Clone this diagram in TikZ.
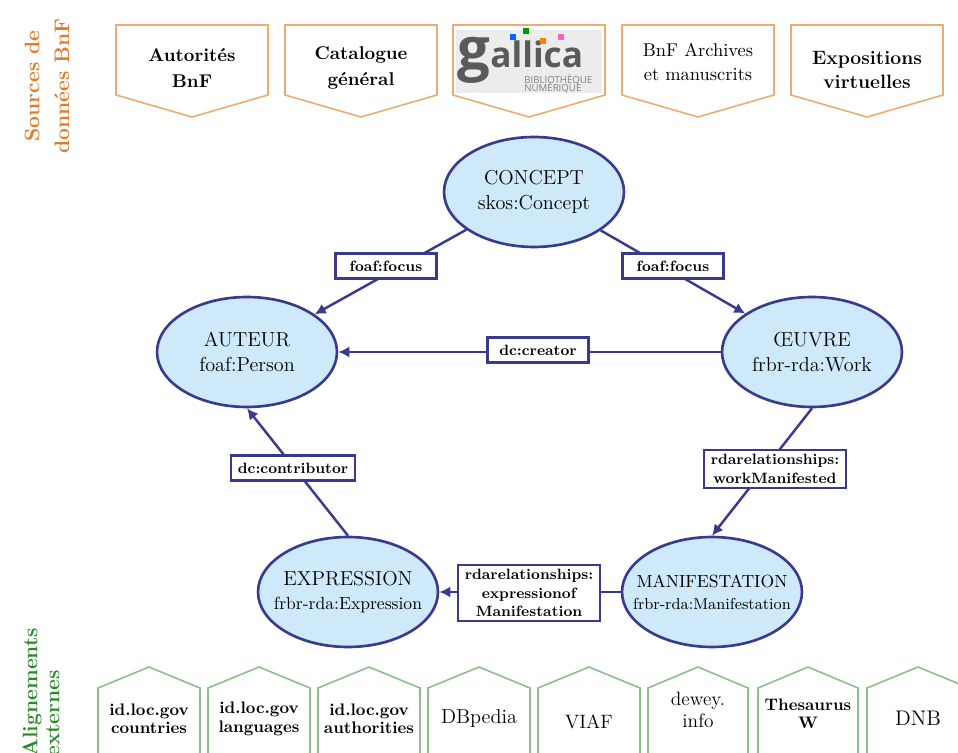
\documentclass[tikz,border=0pt]{standalone}
\usepackage{fontspec}
\newfontfamily\logofont{Open Sans}
\usetikzlibrary{shapes.geometric,arrows.meta}

\definecolor{navy}{RGB}{58,58,140}
\definecolor{entfill}{RGB}{205,233,250}
\definecolor{srcorange}{RGB}{224,122,40}
\definecolor{srcline}{RGB}{234,172,112}
\definecolor{alggreen}{RGB}{42,138,42}
\definecolor{algline}{RGB}{140,190,140}
\definecolor{logogray}{RGB}{90,90,90}

\begin{document}
\begin{tikzpicture}[x=0.02cm,y=-0.02cm,
    ent/.style={ellipse, draw=navy, line width=1.5pt, fill=entfill, minimum width=3.6cm, minimum height=2.2cm, inner sep=0pt},
    enttxt/.style={align=center, font=\fontsize{11.5}{14}\selectfont},
    link/.style={draw=navy, line width=1.4pt, -{Latex[length=2.2mm,width=2.2mm]}},
    lab/.style={draw=navy, line width=1.3pt, fill=white, align=center, font=\bfseries\fontsize{8.5}{10.5}\selectfont, inner xsep=4pt, inner ysep=2.5pt, minimum width=2.02cm, minimum height=0.5cm},
    srcbox/.style={draw=srcline, line width=0.9pt, fill=white},
    algbox/.style={draw=algline, line width=0.9pt, fill=white},
    srctxt/.style={align=center, font=\bfseries\fontsize{10.5}{14.5}\selectfont},
    algtxt/.style={align=center, font=\bfseries\fontsize{9.5}{10.5}\selectfont},
    algbig/.style={align=center, font=\fontsize{11}{12.5}\selectfont}]
    \useasboundingbox (0,0) rectangle (958,753);
    \clip (0,0) rectangle (958,753);

    % side titles
    \node[rotate=90, align=center, text=srcorange, font=\bfseries\fontsize{12}{17}\selectfont] (srcs) at (47,86) {Sources de\\données BnF};
    \node[rotate=90, anchor=west, align=left, inner sep=0pt, text=alggreen, font=\bfseries\fontsize{12}{12.5}\selectfont] (algs) at (41,757) {Alignements\\externes};

    % sources (top)
    \filldraw[srcbox] (116,25) -- (268,25) -- (268,95) -- (192,117) -- (116,95) -- cycle;
    \filldraw[srcbox] (285,25) -- (437,25) -- (437,95) -- (361,117) -- (285,95) -- cycle;
    \filldraw[srcbox] (453,25) -- (605,25) -- (605,95) -- (529,117) -- (453,95) -- cycle;
    \filldraw[srcbox] (622,25) -- (774,25) -- (774,95) -- (698,117) -- (622,95) -- cycle;
    \filldraw[srcbox] (791,25) -- (943,25) -- (943,95) -- (867,117) -- (791,95) -- cycle;
    \node[srctxt] (autorites) at (192,68) {Autorités\\BnF};
    \node[srctxt] (catalogue) at (361,68) {Catalogue\\général};
    \node[align=center, font=\fontsize{10.5}{14}\selectfont] (archives) at (698,62) {BnF Archives\\et manuscrits};
    \node[srctxt, font=\bfseries\fontsize{11}{14}\selectfont] (expos) at (867,70) {Expositions\\virtuelles};
    % gallica logo
    \fill[gray!15] (456,30) rectangle (602,93);
    \node[anchor=base west, inner sep=0pt, text=logogray, font=\logofont\bfseries\fontsize{33}{33}\selectfont] (galg) at (457,70) {g};
    \node[anchor=base west, inner sep=0pt, text=logogray, font=\logofont\bfseries\fontsize{20}{20}\selectfont] (galw) at (490,68) {allica};
    \fill[blue!60!cyan] (510,34) rectangle (516,40);
    \fill[green!60!black] (523,28) rectangle (529,34);
    \fill[orange] (540,38) rectangle (546,44);
    \fill[magenta!60] (558,34) rectangle (564,40);
    \node[anchor=west, inner sep=0pt, text=gray, font=\logofont\fontsize{5.5}{5.5}\selectfont] (galb) at (524,80) {BIBLIOTHÈQUE};
    \node[anchor=west, inner sep=0pt, text=gray, font=\logofont\fontsize{5.5}{5.5}\selectfont] (galn) at (524,88) {NUMÉRIQUE};

    % entities
    \node[ent] (concept) at (534,192) {};
    \node[ent] (auteur) at (247,352) {};
    \node[ent] (oeuvre) at (812,352) {};
    \node[ent] (expr) at (348,592) {};
    \node[ent] (manif) at (712,592) {};
    \node[enttxt] (concept-t) at (concept) {CONCEPT\\skos:Concept};
    \node[enttxt] (auteur-t) at (auteur) {AUTEUR\\foaf:Person};
    \node[enttxt] (oeuvre-t) at (oeuvre) {ŒUVRE\\frbr-rda:Work};
    \node[enttxt] (expr-t) at (expr) {EXPRESSION\\{\fontsize{10}{12}\selectfont frbr-rda:Expression}};
    \node[enttxt, font=\fontsize{10}{12.5}\selectfont] (manif-t) at (manif) {MANIFESTATION\\{\fontsize{9}{11}\selectfont frbr-rda:Manifestation}};

    % relations
    \draw[link] (concept) -- (auteur);
    \draw[link] (concept) -- (oeuvre);
    \draw[link] (oeuvre) -- (auteur);
    \draw[link] (expr.north) -- (auteur.south);
    \draw[link] (oeuvre.south) -- (manif.north);
    \draw[link] (manif) -- (expr);
    \node[lab] (lfocA) at (386,266) {foaf:focus};
    \node[lab] (lfocO) at (673,266) {foaf:focus};
    \node[lab] (lcreat) at (538,350) {dc:creator};
    \node[lab] (lcontr) at (293,468) {dc:contributor};
    \node[lab] (lwork) at (775,469) {rdarelationships:\\workManifested};
    \node[lab] (lexpr) at (529,593) {rdarelationships:\\expressionof\\Manifestation};

    % alignments (bottom)
    \filldraw[algbox] (98,770) -- (98,688) -- (149,667) -- (200,688) -- (200,770) -- cycle;
    \filldraw[algbox] (208,770) -- (208,688) -- (259,667) -- (310,688) -- (310,770) -- cycle;
    \filldraw[algbox] (318,770) -- (318,688) -- (369,667) -- (420,688) -- (420,770) -- cycle;
    \filldraw[algbox] (428,770) -- (428,688) -- (479,667) -- (530,688) -- (530,770) -- cycle;
    \filldraw[algbox] (538,770) -- (538,688) -- (589,667) -- (640,688) -- (640,770) -- cycle;
    \filldraw[algbox] (648,770) -- (648,688) -- (698,667) -- (748,688) -- (748,770) -- cycle;
    \filldraw[algbox] (758,770) -- (758,688) -- (808,667) -- (858,688) -- (858,770) -- cycle;
    \filldraw[algbox] (867,770) -- (867,688) -- (918,667) -- (969,688) -- (969,770) -- cycle;
    \node[algtxt] (countries) at (149,719) {id.loc.gov\\countries};
    \node[algtxt] (languages) at (259,719) {id.loc.gov\\languages};
    \node[algtxt] (authorities) at (369,719) {id.loc.gov\\authorities};
    \node[algbig, font=\fontsize{11.5}{13}\selectfont] (dbpedia) at (479,718) {DBpedia};
    \node[algbig] (viaf) at (589,722) {VIAF};
    \node[algbig] (dewey) at (698,710) {dewey.\\info};
    \node[algtxt] (thesw) at (808,714) {Thesaurus\\W};
    \node[algbig, font=\fontsize{12}{13}\selectfont] (dnb) at (918,718) {DNB};
\end{tikzpicture}
\end{document}
